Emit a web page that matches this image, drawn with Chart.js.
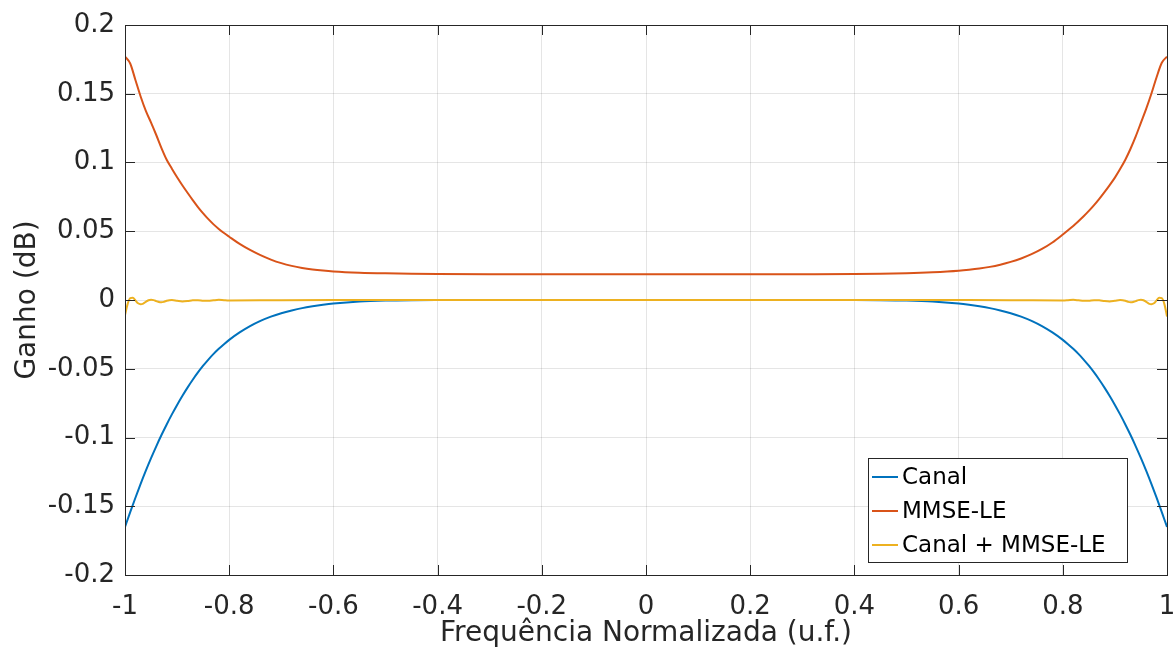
<!DOCTYPE html>
<html>
<head>
<meta charset="utf-8">
<script src="https://cdn.jsdelivr.net/npm/chart.js@4.4.1/dist/chart.umd.min.js"></script>
<style>
   html, body { margin: 0; padding: 0; background: #fff; }
</style>
</head>
<body>
<canvas id="chart1" width="1174" height="651"></canvas>
<script>
// values
const freq = [
   -1, -0.99, -0.98, -0.97, -0.96, -0.95, -0.94, -0.93, -0.92, -0.91, -0.9,
   -0.89, -0.88, -0.87, -0.86, -0.85, -0.84, -0.83, -0.82, -0.81, -0.8,
   -0.78, -0.76, -0.74, -0.72, -0.7, -0.68, -0.66, -0.64, -0.62, -0.6,
   -0.55, -0.5, -0.45, -0.4, -0.3, -0.2, -0.1, 0,
   0.1, 0.2, 0.3, 0.4, 0.45, 0.5, 0.55,
   0.6, 0.62, 0.64, 0.66, 0.68, 0.7, 0.72, 0.74, 0.76, 0.78, 0.8,
   0.81, 0.82, 0.83, 0.84, 0.85, 0.86, 0.87, 0.88, 0.89, 0.9,
   0.91, 0.92, 0.93, 0.94, 0.95, 0.96, 0.97, 0.98, 0.99, 1
];
const canal = [
   -0.165, -0.1543, -0.1438, -0.1337, -0.1241, -0.115, -0.1064, -0.0982, -0.0905, -0.0832, -0.0763,
   -0.0698, -0.0637, -0.058, -0.0527, -0.0478, -0.0433, -0.0392, -0.0355, -0.0321, -0.029,
   -0.0236, -0.019, -0.0152, -0.0121, -0.0096, -0.0076, -0.0059, -0.0046, -0.0035, -0.0026,
   -0.0011, -0.0004, -0.0001, 0, 0, 0, 0, 0,
   0, 0, 0, 0, -0.0001, -0.0004, -0.0011,
   -0.0026, -0.0035, -0.0046, -0.0059, -0.0076, -0.0096, -0.0121, -0.0152, -0.019, -0.0236, -0.029,
   -0.0321, -0.0355, -0.0392, -0.0433, -0.0478, -0.0527, -0.058, -0.0637, -0.0698, -0.0763,
   -0.0832, -0.0905, -0.0982, -0.1064, -0.115, -0.1241, -0.1337, -0.1438, -0.1543, -0.165
];
const mmse = [
   0.177, 0.172, 0.16, 0.148, 0.1375, 0.129, 0.12, 0.1105, 0.102, 0.0955, 0.0893,
   0.0835, 0.078, 0.0727, 0.0676, 0.063, 0.0588, 0.055, 0.0517, 0.0487, 0.046,
   0.0408, 0.0364, 0.0326, 0.0294, 0.0268, 0.0248, 0.0233, 0.0222, 0.0214, 0.0208,
   0.0199, 0.0194, 0.0191, 0.0189, 0.0188, 0.0188, 0.0188, 0.0188,
   0.0188, 0.0188, 0.0188, 0.0189, 0.0191, 0.0195, 0.0202,
   0.0213, 0.022, 0.0229, 0.0241, 0.0257, 0.0277, 0.0302, 0.0333, 0.0371, 0.0418, 0.0476,
   0.0507, 0.0539, 0.0573, 0.0609, 0.0648, 0.069, 0.0736, 0.0785, 0.0836, 0.089,
   0.0952, 0.102, 0.11, 0.119, 0.129, 0.139, 0.15, 0.162, 0.1725, 0.177
];
const comboFreq = [
   -1, -0.995, -0.99, -0.985, -0.98, -0.975, -0.97, -0.965, -0.96, -0.955,
   -0.95, -0.945, -0.94, -0.935, -0.93, -0.925, -0.92, -0.915, -0.91,
   -0.9, -0.89, -0.88, -0.87, -0.86, -0.85, -0.84, -0.83, -0.82, -0.81, -0.8,
   -0.7, -0.6, -0.4, 0, 0.4, 0.6, 0.7,
   0.8, 0.81, 0.82, 0.83, 0.84, 0.85, 0.86, 0.87, 0.88, 0.89, 0.9,
   0.91, 0.915, 0.92, 0.925, 0.93, 0.935, 0.94, 0.945, 0.95,
   0.955, 0.96, 0.965, 0.97, 0.975, 0.98, 0.985, 0.99, 0.995, 1
];
const combo = [
   -0.011, -0.003, 0.0013, 0.0016, -0.0003, -0.0024, -0.0031, -0.0026, -0.0013, -0.0002,
   0.0002, -0.0001, -0.0008, -0.0015, -0.0017, -0.0013, -0.0006, -0.0001, 0,
   -0.0006, -0.0011, -0.0008, -0.0002, -0.0001, -0.0005, -0.0006, -0.0002, 0.0001, -0.0002, -0.0004,
   -0.0001, 0, 0, 0, 0, 0, -0.0001,
   -0.0004, -0.0002, 0.0001, -0.0002, -0.0006, -0.0005, -0.0001, -0.0002, -0.0008, -0.0011, -0.0006,
   0, -0.0001, -0.0006, -0.0013, -0.0017, -0.0015, -0.0008, -0.0001, 0.0002,
   -0.0002, -0.0013, -0.0026, -0.0031, -0.0024, -0.0003, 0.0016, 0.0013, -0.003, -0.012
];
const seriesNames = ["Canal", "MMSE-LE", "Canal + MMSE-LE"];
const seriesColors = ["#0072BD", "#D95319", "#EDB120"];

const axisColor = "#262626";
const fontFamily = "'DejaVu Sans', sans-serif";

function toPoints(xs, ys) {
   return xs.map((x, i) => ({ x: x, y: ys[i] }));
}

// matlab-like box with inward ticks on all four sides
const boxPlugin = {
   id: 'boxPlugin',
   afterDatasetsDraw(chart) {
      const { ctx, chartArea: a, scales } = chart;
      const len = 10;
      ctx.save();
      ctx.strokeStyle = axisColor;
      ctx.lineWidth = 1;
      ctx.beginPath();
      scales.x.ticks.forEach(t => {
         const px = Math.round(scales.x.getPixelForValue(t.value)) + 0.5;
         ctx.moveTo(px, a.bottom); ctx.lineTo(px, a.bottom - len);
         ctx.moveTo(px, a.top); ctx.lineTo(px, a.top + len);
      });
      scales.y.ticks.forEach(t => {
         const py = Math.round(scales.y.getPixelForValue(t.value)) + 0.5;
         ctx.moveTo(a.left, py); ctx.lineTo(a.left + len, py);
         ctx.moveTo(a.right, py); ctx.lineTo(a.right - len, py);
      });
      ctx.stroke();
      ctx.strokeRect(Math.round(a.left) + 0.5, Math.round(a.top) + 0.5,
         Math.round(a.right - a.left), Math.round(a.bottom - a.top));
      ctx.restore();
   }
};

// legend box inside the plot, lower right
const legendBox = {
   id: 'legendBox',
   afterDraw(chart) {
      const { ctx, chartArea: a } = chart;
      const w = 259, h = 104;
      const x0 = a.right - 40 - w;
      const y0 = a.bottom - 13 - h;
      ctx.save();
      ctx.fillStyle = "#fff";
      ctx.fillRect(x0, y0, w, h);
      ctx.strokeStyle = axisColor;
      ctx.lineWidth = 1;
      ctx.strokeRect(Math.round(x0) + 0.5, Math.round(y0) + 0.5, w, h);
      ctx.font = "23px " + fontFamily;
      ctx.textBaseline = "middle";
      ctx.fillStyle = "#000";
      chart.data.datasets.forEach((ds, i) => {
         const yy = y0 + 19 + i * 34;
         ctx.strokeStyle = ds.borderColor;
         ctx.lineWidth = 2;
         ctx.beginPath();
         ctx.moveTo(x0 + 4, yy);
         ctx.lineTo(x0 + 30, yy);
         ctx.stroke();
         ctx.fillText(ds.label, x0 + 34, yy + 1);
      });
      ctx.restore();
   }
};

function drawChart(ctx) {
   const config = {
      type: 'line',
      data: {
         datasets: [
            { label: seriesNames[0], data: toPoints(freq, canal), borderColor: seriesColors[0], order: 2 },
            { label: seriesNames[1], data: toPoints(freq, mmse), borderColor: seriesColors[1], order: 1 },
            { label: seriesNames[2], data: toPoints(comboFreq, combo), borderColor: seriesColors[2], order: 0 },
         ]
      },
      options: {
         responsive: false,
         animation: false,
         layout: {
            padding: { left: 0, right: 7, top: 25, bottom: 0 }
         },
         elements: {
            line: {
               cubicInterpolationMode: "monotone",
               borderWidth: 2,
               borderJoinStyle: "round",
            },
            point: {
               radius: 0,
            }
         },
         plugins: {
            legend: { display: false },
            tooltip: { enabled: false }
         },
         scales: {
            x: {
               type: 'linear',
               min: -1,
               max: 1,
               afterFit: (s) => {
                  s.height = 76;
                  s.paddingLeft = 0;
                  s.paddingRight = 0;
               },
               ticks: {
                  stepSize: 0.2,
                  maxRotation: 0,
                  padding: 17,
                  color: axisColor,
                  font: { size: 26, family: fontFamily },
                  callback: (v) => String(Number(v.toFixed(1)))
               },
               grid: {
                  drawTicks: false,
                  color: "rgba(38, 38, 38, 0.12)",
               },
               border: { display: true, color: axisColor },
               title: {
                  display: true,
                  text: "Frequência Normalizada (u.f.)",
                  color: axisColor,
                  font: { size: 28, family: fontFamily },
                  padding: { top: 0, bottom: 0 }
               }
            },
            y: {
               min: -0.2,
               max: 0.2,
               afterFit: (s) => {
                  s.width = 125;
                  s.paddingTop = 0;
                  s.paddingBottom = 0;
               },
               ticks: {
                  stepSize: 0.05,
                  padding: 10,
                  color: axisColor,
                  font: { size: 26, family: fontFamily },
                  callback: (v) => String(Number(v.toFixed(2)))
               },
               grid: {
                  drawTicks: false,
                  color: "rgba(38, 38, 38, 0.12)",
               },
               border: { display: true, color: axisColor },
               title: {
                  display: true,
                  text: "Ganho (dB)",
                  color: axisColor,
                  font: { size: 28, family: fontFamily },
                  padding: { top: 11, bottom: 0 }
               }
            }
         }
      },
      plugins: [boxPlugin, legendBox]
   };
   return new Chart(ctx, config);
}

const chart = drawChart(document.querySelector("#chart1"));
</script>
</body>
</html>
